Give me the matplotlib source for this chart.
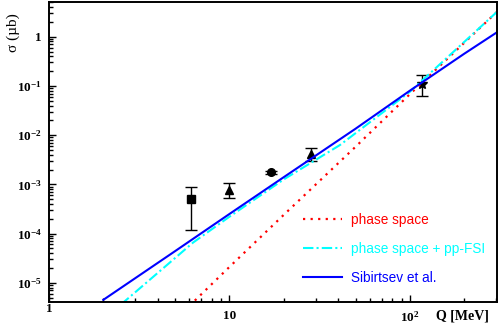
import matplotlib
matplotlib.use("Agg")
import matplotlib.pyplot as plt
import matplotlib.transforms as mtrans
import numpy as np
from matplotlib.ticker import FixedLocator, FixedFormatter, NullFormatter

plt.rcParams['mathtext.fontset'] = 'custom'
plt.rcParams['mathtext.rm'] = 'Liberation Serif:bold'
plt.rcParams['mathtext.bf'] = 'Liberation Serif:bold'
plt.rcParams['mathtext.it'] = 'Liberation Serif:bold'

# ---- data ----
# phase space (red dotted)
ps_Q = [6.0, 10, 20, 50, 100, 200, 304]
ps_sig = [3.4e-6, 2.1e-5, 2.4e-4, 5.8e-3, 0.068, 0.75, 3.2]
# phase space + pp-FSI (cyan dash-dot)
fsi_Q = [2.5, 6.3, 10, 20, 41, 100, 304]
fsi_sig = [3.6e-6, 6.6e-5, 2.2e-4, 1.26e-3, 6.3e-3, 0.076, 3.2]
# Sibirtsev et al. (blue solid)
sib_Q = [2.0, 5, 10, 20, 50, 100, 200, 304]
sib_sig = [4.5e-6, 4.4e-5, 2.5e-4, 1.4e-3, 1.35e-2, 0.08, 0.45, 1.23]

# data points
pts_Q = [6.13, 10.0, 17.05, 28.4, 116]
pts_sig = [4.95e-4, 7.7e-4, 1.75e-3, 4.05e-3, 0.109]
pts_lo = [1.17e-4, 5.4e-4, 1.65e-3, 2.97e-3, 0.063]
pts_hi = [8.9e-4, 1.05e-3, 1.85e-3, 5.5e-3, 0.167]
pts_mk = ['s', '^', 'o', '^', '*']

xtick_vals = [1, 10, 100]
xtick_labels = ['', '10', r'$10^{2}$']
ytick_vals = [1e-5, 1e-4, 1e-3, 1e-2, 1e-1, 1]
ytick_labels = [r'$10^{-5}$', r'$10^{-4}$', r'$10^{-3}$', r'$10^{-2}$', r'$10^{-1}$', '1']

fig = plt.figure(figsize=(4.98, 3.30), dpi=100)
ax = fig.add_axes([49/498, 28/330, 448/498, 300/330])
ax.set_xscale('log')
ax.set_yscale('log')
ax.set_xlim(1, 304)
ax.set_ylim(4.07e-6, 5.07)

ax.plot(ps_Q, ps_sig, color='red', ls=(0, (1, 2.4)), lw=1.6, label='phase space')
ax.plot(fsi_Q, fsi_sig, color='cyan', ls=(0, (5, 1.5, 1, 1.5)), lw=1.5, label='phase space + pp-FSI')
ax.plot(sib_Q, sib_sig, color='blue', ls='-', lw=1.5, label='Sibirtsev et al.')

for q, s, lo, hi, m in zip(pts_Q, pts_sig, pts_lo, pts_hi, pts_mk):
    ms = 7.5 if m == '*' else 5.5
    ax.errorbar([q], [s], yerr=[[s - lo], [hi - s]], fmt=m, color='black',
                ms=ms, capsize=4, elinewidth=1.0, capthick=1.0, zorder=1)

ax.xaxis.set_major_locator(FixedLocator(xtick_vals))
ax.xaxis.set_major_formatter(FixedFormatter(xtick_labels))
ax.yaxis.set_major_locator(FixedLocator(ytick_vals))
ax.yaxis.set_major_formatter(FixedFormatter(ytick_labels))
ax.xaxis.set_minor_formatter(NullFormatter())
ax.yaxis.set_minor_formatter(NullFormatter())

ax.tick_params(which='both', direction='in', top=False, right=False, width=1.0)
ax.tick_params(which='major', length=5)
ax.tick_params(which='minor', length=3)
for lab in ax.get_xticklabels() + ax.get_yticklabels():
    lab.set_fontfamily('Liberation Serif')
    lab.set_fontweight('bold')
    lab.set_fontsize(9.5)
ax.tick_params(axis='x', pad=6)
ax.tick_params(axis='y', pad=5)
for sp in ax.spines.values():
    sp.set_linewidth(1.4)

# the "1" label on the Q axis sits higher than the other labels
trans = mtrans.blended_transform_factory(ax.transData, ax.transAxes)
ax.text(xtick_vals[0], -10.5/300, '1', transform=trans, ha='center', va='baseline',
        family='Liberation Serif', fontweight='bold', fontsize=9.5)

leg = ax.legend(loc='upper left', bbox_to_anchor=(0.567, 0.298), frameon=False,
                borderpad=0, borderaxespad=0,
                handlelength=2.9, handletextpad=0.62, labelspacing=1.12,
                prop={'family': 'Liberation Sans', 'size': 9.8})
for t, c in zip(leg.get_texts(), ['red', 'cyan', 'blue']):
    t.set_color(c)

fig.text(13/498, 1 - 33/330, 'σ (µb)', rotation=90, ha='center', va='center',
         family='Liberation Serif', fontsize=11)
fig.text(462/498, 1 - 316/330, 'Q [MeV]', ha='center', va='center',
         family='Liberation Serif', fontweight='bold', fontsize=10)

fig.savefig('out.png', dpi=100)
